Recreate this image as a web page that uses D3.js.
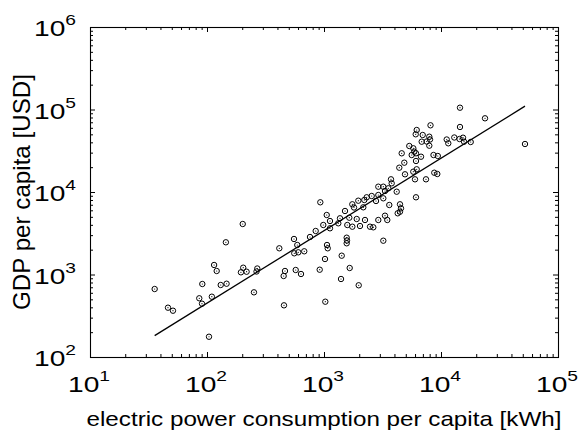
<!DOCTYPE html>
<html lang="en">
<head>
<meta charset="UTF-8">
<title>GDP vs electric power consumption</title>
<script src="https://d3js.org/d3.v7.min.js"></script>
<style>
  body { margin: 0; background: #fff; }
  svg { display: block; font-family: "Liberation Sans", Arial, sans-serif; }
</style>
</head>
<body>
<svg width="578" height="431"></svg>
<script>
// electric power consumption per capita [kWh]
const kwh = [35.7, 46.4, 51.2, 85.9, 90.6, 91.2, 104, 110, 115, 121, 131, 147, 145, 202, 204, 195, 218, 269, 265, 252,
  415, 455, 464, 452, 554, 591, 557, 603, 678, 573, 636, 759, 849, 919, 930, 986, 1020, 1026, 1055, 1061,
  1076, 1125, 1125, 1325, 1370, 1417, 1398, 1512, 1563, 1572, 1563, 1582, 1645, 1658, 1746, 1746, 1980, 1805,
  1904, 1964, 2031, 2167, 2211, 2317, 2241, 2474, 2639, 2557, 2783, 2912, 2912, 3213, 3213, 2912, 3213, 3322,
  3544, 3322, 3475, 3614, 3737, 3789, 4182, 4265, 4462, 4551, 4462, 4401, 4614, 4857, 4924, 5358, 5798, 5913,
  5617, 6114, 6748, 5798, 6199, 5995, 6114, 6114, 7443, 6078, 6199, 6975, 8134, 6839, 7547, 7943, 8054, 7943,
  8629, 9390, 8763, 9299, 11190, 11540, 12990, 14390, 15420, 15730, 17940, 14530, 14530, 23780, 52230];

// GDP per capita [USD]
const gdp = [667, 396, 364, 515, 443, 767, 176, 538, 1304, 1103, 746, 773, 2457, 4094, 1209, 1063, 1081, 1182, 1087, 608,
  2078, 423, 1103, 959, 2694, 2278, 1807, 1858, 1911, 1134, 1014, 2848, 3368, 1143, 7503, 3981, 1541, 468, 5262, 2278,
  2078, 4451, 3631, 4175, 4800, 1690, 882, 5885, 2793, 2583, 2389, 3981, 4881, 1199, 7094, 3796, 740, 6488,
  4707, 7845, 3871, 6524, 8000, 8627, 4578, 3796, 3733, 8944, 7780, 9197, 11595, 11595, 8387, 4578, 2568, 10283,
  11086, 5160, 4578, 6957, 14250, 12750, 10083, 5518, 7094, 6344, 5771, 19700, 29450, 22660, 16390, 36110, 33860, 30800,
  28080, 29450, 26780, 17630, 18850, 14250, 23760, 8627, 14250, 50050, 56430, 49080, 64330, 40700, 40930, 46810, 43290, 36410,
  28080, 27320, 17130, 16530, 43290, 38930, 45780, 43890, 45530, 40700, 40360, 61370, 105150, 78220, 38170];

// fitted line, log10(gdp) = fitIntercept + fitSlope * log10(kwh)
const fitSlope = 0.879;
const fitIntercept = 0.894;

const xTickExps = [1, 2, 3, 4, 5];
const yTickExps = [2, 3, 4, 5, 6];

const svg = d3.select("svg");
const pLeft = 90, pRight = 558, pTop = 27, pBottom = 357;

const x = d3.scaleLog().domain([10, 1e5]).range([pLeft, pRight]);
const y = d3.scaleLog().domain([100, 1e6]).range([pBottom, pTop]);

const isMajor = v => Math.abs(Math.log10(v) - Math.round(Math.log10(v))) < 1e-9;
const xMajor = x.ticks().filter(isMajor), xMinor = x.ticks().filter(v => !isMajor(v));
const yMajor = y.ticks().filter(isMajor), yMinor = y.ticks().filter(v => !isMajor(v));

// inward ticks on all four sides
function ticks(axis, tr, values, size) {
  svg.append("g").attr("transform", tr)
    .call(axis.tickValues(values).tickSize(-size).tickFormat(""))
    .call(g => g.select(".domain").remove())
    .call(g => g.selectAll("line").attr("stroke", "#000"));
}
[[xMajor, 5], [xMinor, 3]].forEach(([v, s]) => {
  ticks(d3.axisBottom(x), `translate(0,${pBottom})`, v, s);
  ticks(d3.axisTop(x), `translate(0,${pTop})`, v, s);
});
[[yMajor, 5], [yMinor, 3]].forEach(([v, s]) => {
  ticks(d3.axisLeft(y), `translate(${pLeft},0)`, v, s);
  ticks(d3.axisRight(y), `translate(${pRight},0)`, v, s);
});

svg.append("rect")
  .attr("x", pLeft + 0.5).attr("y", pTop + 0.5)
  .attr("width", pRight - pLeft).attr("height", pBottom - pTop)
  .attr("fill", "none").attr("stroke", "#000").attr("stroke-width", 1.1);

// tick labels 10^k
function powLabel(g, e, anchor) {
  const t = g.append("text").attr("text-anchor", anchor).attr("fill", "#000");
  t.append("tspan").attr("font-size", 22).text("10");
  t.append("tspan").attr("font-size", 15).attr("dy", -11).text(e);
}
xTickExps.forEach(e => {
  const g = svg.append("g").attr("transform", `translate(${x(Math.pow(10, e)) - 1},392) scale(1.28,1)`);
  powLabel(g, e, "middle");
});
yTickExps.forEach(e => {
  const g = svg.append("g").attr("transform", `translate(76,${y(Math.pow(10, e)) + 9}) scale(1.28,1)`);
  powLabel(g, e, "end");
});

// regression line
const xr = d3.extent(kwh);
const fit = xr.map(v => [v, Math.pow(10, fitIntercept + fitSlope * Math.log10(v))]);
svg.append("path")
  .attr("d", d3.line().x(d => x(d[0])).y(d => y(d[1]))(fit))
  .attr("fill", "none").attr("stroke", "#000").attr("stroke-width", 1.3);

// data points: circle with a centre dot
const pts = kwh.map((k, i) => [k, gdp[i]]);
const mk = svg.append("g").selectAll("g").data(pts).enter().append("g")
  .attr("transform", d => `translate(${x(d[0])},${y(d[1])})`);
mk.append("circle").attr("r", 2.7).attr("fill", "none").attr("stroke", "#000").attr("stroke-width", 1);
mk.append("circle").attr("r", 0.6).attr("fill", "#000");

// axis titles
svg.append("text")
  .attr("x", (pLeft + pRight) / 2).attr("y", 426)
  .attr("text-anchor", "middle").attr("font-size", 21)
  .attr("textLength", 475).attr("lengthAdjust", "spacingAndGlyphs")
  .text("electric power consumption per capita [kWh]");

svg.append("text")
  .attr("transform", `translate(30,${(pTop + pBottom) / 2}) rotate(-90)`)
  .attr("text-anchor", "middle").attr("font-size", 24)
  .attr("textLength", 236).attr("lengthAdjust", "spacingAndGlyphs")
  .text("GDP per capita [USD]");
</script>
</body>
</html>
